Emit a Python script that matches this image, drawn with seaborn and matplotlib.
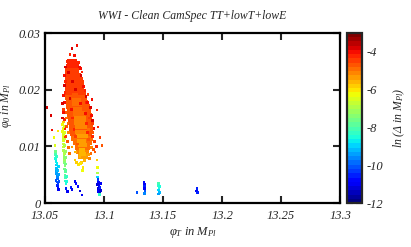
import numpy as np
import pandas as pd
import matplotlib
matplotlib.use('Agg')
import matplotlib.pyplot as plt
import seaborn as sns
from matplotlib.ticker import FixedLocator, FixedFormatter
from matplotlib.colors import Normalize
from matplotlib.cm import ScalarMappable

# ---- data (phi_T, phi_0, ln Delta) ----
# dense red body of the main blob: one row of x values per phi_0 level
core_y = [0.0250, 0.0242, 0.0234, 0.0226, 0.0218, 0.0210, 0.0202, 0.0194,
          0.0186, 0.0178, 0.0170, 0.0162, 0.0154, 0.0146, 0.0138, 0.0130,
          0.0122, 0.0114, 0.0106, 0.0098, 0.0090, 0.0082]
core_z = [-4.3, -4.3, -4.4, -4.4, -4.4, -4.5, -4.5, -4.5, -4.6, -4.6, -4.6,
          -4.7, -4.7, -4.7, -4.8, -4.8, -4.8, -4.9, -4.9, -5.0, -5.1, -5.3]
core_x = [
    [13.0705, 13.0730, 13.0755],
    [13.0695, 13.0720, 13.0745, 13.0765],
    [13.0690, 13.0715, 13.0740, 13.0765],
    [13.0688, 13.0713, 13.0738, 13.0763, 13.0785],
    [13.0685, 13.0710, 13.0735, 13.0760, 13.0785, 13.0800],
    [13.0685, 13.0710, 13.0735, 13.0760, 13.0785, 13.0808],
    [13.0688, 13.0713, 13.0738, 13.0763, 13.0788, 13.0813],
    [13.0690, 13.0715, 13.0740, 13.0765, 13.0790, 13.0815, 13.0830],
    [13.0692, 13.0717, 13.0742, 13.0767, 13.0792, 13.0817, 13.0840],
    [13.0695, 13.0720, 13.0745, 13.0770, 13.0795, 13.0820, 13.0845],
    [13.0698, 13.0723, 13.0748, 13.0773, 13.0798, 13.0823, 13.0848, 13.0862],
    [13.0702, 13.0727, 13.0752, 13.0777, 13.0802, 13.0827, 13.0852, 13.0868],
    [13.0708, 13.0733, 13.0758, 13.0783, 13.0808, 13.0833, 13.0858, 13.0875],
    [13.0715, 13.0740, 13.0765, 13.0790, 13.0815, 13.0840, 13.0865, 13.0880],
    [13.0720, 13.0745, 13.0770, 13.0795, 13.0820, 13.0845, 13.0870, 13.0885],
    [13.0725, 13.0750, 13.0775, 13.0800, 13.0825, 13.0850, 13.0875, 13.0890],
    [13.0730, 13.0755, 13.0780, 13.0805, 13.0830, 13.0855, 13.0880],
    [13.0738, 13.0763, 13.0788, 13.0813, 13.0838, 13.0863, 13.0885],
    [13.0755, 13.0780, 13.0805, 13.0830, 13.0855, 13.0878],
    [13.0770, 13.0795, 13.0820, 13.0845, 13.0865],
    [13.0782, 13.0807, 13.0832, 13.0855],
    [13.0795, 13.0820, 13.0845],
]

# orange centre of the blob
inner_y = [0.0190, 0.0182, 0.0174, 0.0166, 0.0158, 0.0150, 0.0142, 0.0134,
           0.0126, 0.0118, 0.0110, 0.0102, 0.0094, 0.0086]
inner_z = [-4.8, -4.9, -4.9, -5.0, -5.0, -5.1, -5.1, -5.2, -5.2, -5.3, -5.3,
           -5.4, -5.5, -5.6]
inner_x = [
    [13.0745, 13.0765],
    [13.0745, 13.0768, 13.0790],
    [13.0748, 13.0770, 13.0793],
    [13.0752, 13.0775, 13.0798],
    [13.0755, 13.0778, 13.0800, 13.0822],
    [13.0760, 13.0783, 13.0805, 13.0828],
    [13.0765, 13.0788, 13.0810, 13.0832],
    [13.0770, 13.0793, 13.0815, 13.0838],
    [13.0775, 13.0798, 13.0820, 13.0842],
    [13.0780, 13.0803, 13.0825, 13.0848],
    [13.0788, 13.0810, 13.0832],
    [13.0795, 13.0818, 13.0840],
    [13.0802, 13.0825],
    [13.0810, 13.0830],
]

# sparse points around and over the blob
halo = [
    (13.0729, 0.0272, -3.9), (13.0771, 0.0278, -4.0), (13.0712, 0.0262, -4.2),
    (13.0752, 0.0260, -4.1), (13.0690, 0.0250, -4.3), (13.0785, 0.0248, -4.2),
    (13.0814, 0.0231, -4.3), (13.0800, 0.0238, -4.0), (13.0820, 0.0215, -4.4),
    (13.0839, 0.0199, -4.2), (13.0864, 0.0192, -4.5), (13.0850, 0.0178, -4.3),
    (13.0898, 0.0182, -4.1), (13.0875, 0.0165, -4.6), (13.0940, 0.0164, -4.3),
    (13.0880, 0.0150, -4.4), (13.0907, 0.0124, -4.7), (13.0949, 0.0134, -4.2),
    (13.0966, 0.0116, -4.5), (13.0983, 0.0102, -4.6), (13.0924, 0.0090, -4.8),
    (13.0890, 0.0110, -4.9), (13.0900, 0.0140, -4.5), (13.0870, 0.0130, -5.0),
    (13.0895, 0.0098, -5.2), (13.0870, 0.0085, -5.4),
    (13.0517, 0.0168, -3.8), (13.0551, 0.0154, -3.9), (13.0559, 0.0129, -4.0),
    (13.0675, 0.0215, -4.2), (13.0670, 0.0195, -4.3), (13.0665, 0.0178, -4.1),
    (13.0660, 0.0165, -4.4), (13.0672, 0.0160, -4.6), (13.0668, 0.0148, -4.2),
    (13.0680, 0.0135, -4.8), (13.0685, 0.0150, -4.9), (13.0678, 0.0232, -4.4),
    (13.0695, 0.0140, -5.0), (13.0700, 0.0125, -5.1),
    (13.0672, 0.0240, -3.9), (13.0668, 0.0225, -4.0), (13.0662, 0.0208, -3.8),
    (13.0658, 0.0190, -4.1), (13.0650, 0.0175, -3.9), (13.0655, 0.0160, -4.0),
    (13.0648, 0.0150, -3.7), (13.0665, 0.0132, -4.3), (13.0676, 0.0118, -4.5),
    (13.0690, 0.0108, -4.6), (13.0700, 0.0098, -4.9), (13.0710, 0.0088, -5.0),
    (13.0790, 0.0240, -4.0), (13.0805, 0.0225, -3.9), (13.0825, 0.0205, -4.1),
    (13.0848, 0.0188, -3.8), (13.0862, 0.0178, -4.0), (13.0885, 0.0168, -3.9),
    (13.0895, 0.0155, -4.1), (13.0905, 0.0145, -3.8), (13.0915, 0.0132, -4.0),
    (13.0902, 0.0118, -4.2), (13.0920, 0.0108, -4.4), (13.0935, 0.0100, -4.3),
    (13.0912, 0.0094, -4.6), (13.0890, 0.0088, -5.0), (13.0878, 0.0078, -5.2),
    (13.0700, 0.0230, -3.8), (13.0730, 0.0215, -3.9), (13.0760, 0.0200, -3.8),
    (13.0712, 0.0185, -3.9), (13.0800, 0.0175, -4.0), (13.0725, 0.0165, -4.0),
    (13.0840, 0.0158, -4.1), (13.0735, 0.0150, -4.2), (13.0850, 0.0140, -4.2),
    (13.0745, 0.0130, -4.3), (13.0860, 0.0125, -4.3), (13.0760, 0.0118, -4.5),
    (13.0870, 0.0112, -4.6), (13.0775, 0.0104, -4.8),
    (13.0754, 0.0076, -5.8), (13.0822, 0.0063, -6.0), (13.0797, 0.0081, -5.6),
    (13.0729, 0.0099, -5.4), (13.0760, 0.0090, -5.5), (13.0810, 0.0072, -5.9),
    (13.0838, 0.0075, -5.7), (13.0785, 0.0068, -6.1), (13.0800, 0.0070, -6.0),
    (13.0815, 0.0058, -6.2), (13.0770, 0.0072, -5.9),
    (13.0669, 0.0125, -5.6), (13.0660, 0.0143, -5.8),
]

# yellow-green streak left of the blob
streak = [
    (13.0650, 0.0138, -6.2), (13.0652, 0.0132, -6.3), (13.0651, 0.0126, -6.3),
    (13.0655, 0.0121, -6.4), (13.0653, 0.0115, -6.5), (13.0658, 0.0110, -6.6),
    (13.0656, 0.0104, -6.7), (13.0660, 0.0099, -6.8), (13.0658, 0.0093, -6.9),
    (13.0663, 0.0088, -7.0), (13.0661, 0.0082, -7.1), (13.0666, 0.0077, -7.2),
    (13.0664, 0.0071, -7.3), (13.0669, 0.0066, -7.5), (13.0667, 0.0060, -7.6),
    (13.0672, 0.0055, -7.8), (13.0670, 0.0049, -7.9), (13.0675, 0.0044, -8.1),
    (13.0673, 0.0039, -8.3), (13.0678, 0.0035, -8.5),
    (13.0661, 0.0135, -6.4), (13.0663, 0.0124, -6.5), (13.0666, 0.0113, -6.7),
    (13.0668, 0.0102, -6.9), (13.0671, 0.0091, -7.1), (13.0673, 0.0080, -7.3),
    (13.0676, 0.0069, -7.6), (13.0678, 0.0058, -7.9), (13.0681, 0.0047, -8.2),
    (13.0683, 0.0038, -8.6),
    (13.0576, 0.0115, -6.3), (13.0585, 0.0102, -6.6), (13.0611, 0.0127, -6.1),
]

# cyan / blue cluster at the far left
cyan = [
    (13.0588, 0.0091, -7.6), (13.0590, 0.0085, -8.0), (13.0592, 0.0079, -8.4),
    (13.0594, 0.0073, -8.7), (13.0596, 0.0067, -8.9), (13.0598, 0.0061, -9.1),
    (13.0600, 0.0055, -9.3), (13.0602, 0.0049, -9.6), (13.0604, 0.0043, -9.9),
    (13.0606, 0.0037, -10.2), (13.0608, 0.0031, -10.5), (13.0610, 0.0026, -10.8),
    (13.0598, 0.0082, -8.3), (13.0601, 0.0070, -8.8), (13.0604, 0.0058, -9.2),
    (13.0607, 0.0046, -9.7), (13.0610, 0.0034, -10.3), (13.0613, 0.0024, -10.9),
    (13.0612, 0.0065, -9.0), (13.0615, 0.0050, -9.5), (13.0618, 0.0038, -10.1),
    (13.0594, 0.0040, -10.0), (13.0597, 0.0052, -9.4),
]

# isolated low points and the small clusters to the right
low = [
    (13.0720, 0.0028, -10.6), (13.0754, 0.0038, -10.9), (13.0763, 0.0034, -10.7),
    (13.0729, 0.0024, -11.0), (13.0780, 0.0029, -10.8), (13.0797, 0.0021, -11.2),
    (13.0814, 0.0014, -11.0), (13.0678, 0.0026, -10.5), (13.0690, 0.0020, -10.9),
    (13.0941, 0.0076, -5.9), (13.0944, 0.0062, -6.3), (13.0946, 0.0053, -7.0),
    (13.0948, 0.0046, -9.0), (13.0950, 0.0041, -10.4), (13.0955, 0.0037, -10.8),
    (13.0948, 0.0033, -11.2), (13.0958, 0.0030, -10.9), (13.0952, 0.0026, -11.3),
    (13.0962, 0.0024, -10.7), (13.0955, 0.0020, -11.0), (13.0966, 0.0019, -11.4),
    (13.0960, 0.0015, -8.2), (13.0970, 0.0034, -11.1), (13.0966, 0.0028, -10.6),
    (13.0972, 0.0022, -11.2),
    (13.1339, 0.0037, -10.8), (13.1342, 0.0033, -11.0), (13.1345, 0.0029, -10.6),
    (13.1341, 0.0025, -10.9), (13.1348, 0.0021, -10.2), (13.1346, 0.0017, -9.6),
    (13.1280, 0.0018, -10.0),
    (13.1460, 0.0035, -8.0), (13.1463, 0.0031, -8.3), (13.1466, 0.0027, -8.6),
    (13.1462, 0.0023, -8.9), (13.1468, 0.0019, -9.2), (13.1465, 0.0016, -9.4),
    (13.1472, 0.0029, -8.5),
    (13.1788, 0.0025, -10.6), (13.1785, 0.0021, -10.9), (13.1790, 0.0018, -10.5),
]

x_ticks = [13.05, 13.1, 13.15, 13.2, 13.25, 13.3]
x_tick_labels = ['13.05', '13.1', '13.15', '13.2', '13.25', '13.3']
y_ticks = [0, 0.01, 0.02, 0.03]
y_tick_labels = ['0', '0.01', '0.02', '0.03']
cb_ticks = [-12, -10, -8, -6, -4]
cb_tick_labels = ['-12', '-10', '-8', '-6', '-4']
z_range = (-12, -3)

# ---- style ----
sns.set_style('white')
plt.rcParams['font.family'] = ['Liberation Serif', 'DejaVu Serif']
plt.rcParams['font.style'] = 'italic'
plt.rcParams['mathtext.fontset'] = 'custom'
plt.rcParams['mathtext.it'] = 'Liberation Serif:italic'
plt.rcParams['mathtext.rm'] = 'Liberation Serif:italic'
plt.rcParams['axes.unicode_minus'] = False

cmap = plt.get_cmap('jet', 40)
cols = ['phi_T', 'phi_0', 'lnD']


def rows_to_df(ys, zs, xss):
    return pd.DataFrame([(x, y, z) for y, z, xs in zip(ys, zs, xss) for x in xs],
                        columns=cols)


core_df = rows_to_df(core_y, core_z, core_x)
inner_df = rows_to_df(inner_y, inner_z, inner_x)
other_df = pd.DataFrame(halo + streak + cyan + low, columns=cols)

fig = plt.figure(figsize=(4.11, 2.47), dpi=100)
ax = fig.add_axes([45 / 411, 1 - 203 / 247, 295 / 411, 170 / 247])
cax = fig.add_axes([347 / 411, 1 - 203 / 247, 15 / 411, 170 / 247])

common = dict(x='phi_T', y='phi_0', hue='lnD', palette=cmap, hue_norm=z_range,
              marker='s', linewidth=0, legend=False, ax=ax)
sns.scatterplot(data=core_df, s=11, **common)
sns.scatterplot(data=inner_df, s=9, **common)
sns.scatterplot(data=other_df, s=4, **common)

ax.set_xlim(13.05, 13.3)
ax.set_ylim(0, 0.03)
ax.xaxis.set_major_locator(FixedLocator(x_ticks))
ax.xaxis.set_major_formatter(FixedFormatter(x_tick_labels))
ax.yaxis.set_major_locator(FixedLocator(y_ticks))
ax.yaxis.set_major_formatter(FixedFormatter(y_tick_labels))
ax.tick_params(direction='in', top=True, right=True, bottom=True, left=True,
               length=5, width=1.5, labelsize=9)
ax.tick_params(axis='x', pad=5)
ax.tick_params(axis='y', pad=3)
for sp in ax.spines.values():
    sp.set_linewidth(1.6)
    sp.set_color('black')

ax.set_xlabel(r'$\varphi_T\ in\ M_{Pl}$', fontsize=9, labelpad=2)
ax.set_ylabel(r'$\varphi_0\ in\ M_{Pl}$', fontsize=8.5)
ax.yaxis.set_label_coords(-0.105, 0.57)
ax.set_title('WWI - Clean CamSpec TT+lowT+lowE', fontsize=8.5, pad=10)

sm = ScalarMappable(norm=Normalize(*z_range), cmap=cmap)
cb = fig.colorbar(sm, cax=cax)
cb.set_ticks(cb_ticks)
cb.set_ticklabels(cb_tick_labels)
cb.outline.set_linewidth(1.6)
cax.tick_params(direction='in', left=True, right=True, length=4, width=1.5,
                labelsize=9, pad=3)
cb.set_label(r'$ln\ (\Delta\ in\ M_{Pl})$', fontsize=8.5, labelpad=6)

fig.savefig('out.png', dpi=100)
